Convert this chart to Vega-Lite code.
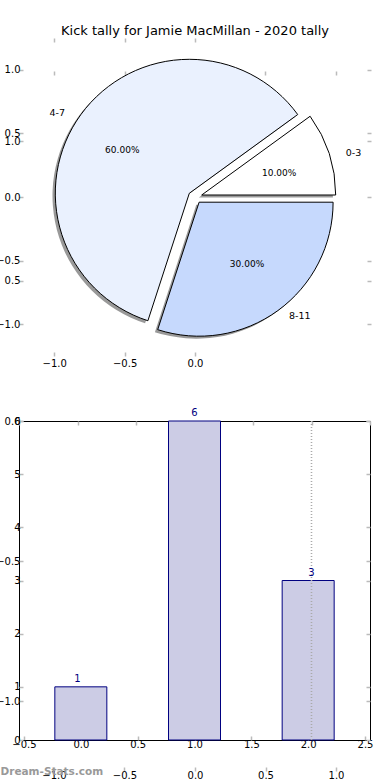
{
  "$schema": "https://vega.github.io/schema/vega-lite/v6.json",
  "autosize": {"type": "none"},
  "padding": {"left": 19, "top": 38, "right": 371, "bottom": 742},
  "background": "white",
  "spacing": 65,
  "bounds": "flush",
  "config": {
    "font": "DejaVu Sans",
    "view": {"stroke": null},
    "axis": {
      "domain": false, "grid": false, "title": null,
      "tickColor": "#bbbbbb", "tickSize": -4, "tickWidth": 1.5,
      "labelFontSize": 10, "labelColor": "black", "labelPadding": 3,
      "labelFont": "DejaVu Sans", "labelFlush": false, "labelOverlap": false, "labelBound": false
    }
  },
  "datasets": {
    "tally": [
      {"range": "0-3", "count": 1, "idx": 0},
      {"range": "4-7", "count": 6, "idx": 1},
      {"range": "8-11", "count": 3, "idx": 2}
    ]
  },
  "vconcat": [
    {
      "width": 352, "height": 318,
      "title": {"text": "Kick tally for Jamie MacMillan - 2020 tally", "fontSize": 13, "fontWeight": "normal", "color": "black", "offset": -1},
      "data": {"name": "tally"},
      "transform": [
        {"joinaggregate": [{"op": "sum", "field": "count", "as": "total"}]},
        {"calculate": "datum.count / datum.total", "as": "frac"}
      ],
      "resolve": {"scale": {"x": "independent", "y": "independent"}, "axis": {"x": "independent", "y": "independent"}},
      "layer": [
        {"mark": {"type": "point", "opacity": 0},
         "encoding": {
           "x": {"datum": 0, "type": "quantitative", "scale": {"domain": [-1.25, 1.25], "nice": false, "zero": false}, "axis": {"orient": "bottom", "values": [-1, -0.5, 0], "format": ".1f", "labelPadding": 6, "labelFlush": false}},
           "y": {"datum": 0, "type": "quantitative", "scale": {"domain": [-1.25, 1.25], "nice": false, "zero": false}, "axis": {"orient": "left", "values": [-1, -0.5, 0, 0.5, 1], "format": ".1f", "labelFlush": false}}
         }},
        {"mark": {"type": "point", "opacity": 0},
         "encoding": {
           "x": {"datum": 0, "type": "quantitative", "scale": {"domain": [-1.25, 1.25], "nice": false, "zero": false}, "axis": {"orient": "top", "values": [-1, -0.5, 0], "labels": false}},
           "y": {"datum": 0, "type": "quantitative", "scale": {"domain": [-1.25, 1.25], "nice": false, "zero": false}, "axis": {"orient": "right", "values": [-1, -0.5, 0, 0.5, 1], "labels": false}}
         }},
        {"mark": {"type": "point", "opacity": 0},
         "encoding": {
           "x": {"datum": 0, "type": "quantitative", "scale": {"domain": [-1.25, 1.25], "nice": false, "zero": false}, "axis": {"orient": "top", "offset": -33, "values": [-1, -0.5, 0, 0.5, 1], "labels": false}},
           "y": {"datum": 1, "type": "quantitative", "scale": {"domain": [0.232, 1.368], "nice": false, "zero": false}, "axis": {"orient": "left", "values": [0.5, 1], "format": ".1f", "labelFlush": false}}
         }},
        {"mark": {"type": "point", "opacity": 0},
         "encoding": {
           "y": {"datum": 1, "type": "quantitative", "scale": {"domain": [0.232, 1.368], "nice": false, "zero": false}, "axis": {"orient": "right", "values": [0.5, 1], "labels": false}}
         }},
        {"mark": {"type": "arc", "radius": 134, "fill": "#333333", "xOffset": 3.9, "yOffset": 0.5},
         "encoding": {
           "theta": {"field": "count", "type": "quantitative", "stack": true, "scale": {"range": [1.5708, 7.854]}},
           "order": {"field": "range", "sort": "descending"},
           "opacity": {"condition": {"test": "datum.range === '0-3'", "value": 0.5}, "value": 0}
         }},
        {"mark": {"type": "arc", "radius": 134, "fill": "#333333", "xOffset": -8.5, "yOffset": -1.2},
         "encoding": {
           "theta": {"field": "count", "type": "quantitative", "stack": true, "scale": {"range": [1.5708, 7.854]}},
           "order": {"field": "range", "sort": "descending"},
           "opacity": {"condition": {"test": "datum.range === '4-7'", "value": 0.5}, "value": 0}
         }},
        {"mark": {"type": "arc", "radius": 134, "fill": "#333333", "xOffset": 1.3, "yOffset": 7.7},
         "encoding": {
           "theta": {"field": "count", "type": "quantitative", "stack": true, "scale": {"range": [1.5708, 7.854]}},
           "order": {"field": "range", "sort": "descending"},
           "opacity": {"condition": {"test": "datum.range === '8-11'", "value": 0.5}, "value": 0}
         }},
        {"mark": {"type": "arc", "radius": 134, "stroke": "black", "strokeWidth": 1, "xOffset": 6.7, "yOffset": -2.0},
         "encoding": {
           "theta": {"field": "count", "type": "quantitative", "stack": true, "scale": {"range": [1.5708, 7.854]}},
           "order": {"field": "range", "sort": "descending"},
           "color": {"field": "range", "type": "nominal", "scale": {"domain": ["0-3", "4-7", "8-11"], "range": ["#ffffff", "#eaf1fe", "#c6d9fd"]}, "legend": null},
           "opacity": {"condition": {"test": "datum.range === '0-3'", "value": 1}, "value": 0}
         }},
        {"mark": {"type": "arc", "radius": 134, "stroke": "black", "strokeWidth": 1, "xOffset": -5.7, "yOffset": -3.7},
         "encoding": {
           "theta": {"field": "count", "type": "quantitative", "stack": true, "scale": {"range": [1.5708, 7.854]}},
           "order": {"field": "range", "sort": "descending"},
           "color": {"field": "range", "type": "nominal", "scale": {"domain": ["0-3", "4-7", "8-11"], "range": ["#ffffff", "#eaf1fe", "#c6d9fd"]}, "legend": null},
           "opacity": {"condition": {"test": "datum.range === '4-7'", "value": 1}, "value": 0}
         }},
        {"mark": {"type": "arc", "radius": 134, "stroke": "black", "strokeWidth": 1, "xOffset": 4.1, "yOffset": 5.2},
         "encoding": {
           "theta": {"field": "count", "type": "quantitative", "stack": true, "scale": {"range": [1.5708, 7.854]}},
           "order": {"field": "range", "sort": "descending"},
           "color": {"field": "range", "type": "nominal", "scale": {"domain": ["0-3", "4-7", "8-11"], "range": ["#ffffff", "#eaf1fe", "#c6d9fd"]}, "legend": null},
           "opacity": {"condition": {"test": "datum.range === '8-11'", "value": 1}, "value": 0}
         }},
        {"mark": {"type": "text", "radius": 147, "align": "left", "baseline": "middle", "fontSize": 9.5, "color": "black", "xOffset": 11, "yOffset": 1.4},
         "encoding": {
           "theta": {"field": "count", "type": "quantitative", "stack": true, "scale": {"range": [1.5708, 7.854]}},
           "order": {"field": "range", "sort": "descending"},
           "text": {"field": "range", "type": "nominal"},
           "opacity": {"condition": {"test": "datum.range === '0-3'", "value": 1}, "value": 0}
         }},
        {"mark": {"type": "text", "radius": 147, "align": "right", "baseline": "middle", "fontSize": 9.5, "color": "black", "xOffset": -11, "yOffset": 2.4},
         "encoding": {
           "theta": {"field": "count", "type": "quantitative", "stack": true, "scale": {"range": [1.5708, 7.854]}},
           "order": {"field": "range", "sort": "descending"},
           "text": {"field": "range", "type": "nominal"},
           "opacity": {"condition": {"test": "datum.range === '4-7'", "value": 1}, "value": 0}
         }},
        {"mark": {"type": "text", "radius": 147, "align": "left", "baseline": "middle", "fontSize": 9.5, "color": "black", "xOffset": 7.6, "yOffset": 0},
         "encoding": {
           "theta": {"field": "count", "type": "quantitative", "stack": true, "scale": {"range": [1.5708, 7.854]}},
           "order": {"field": "range", "sort": "descending"},
           "text": {"field": "range", "type": "nominal"},
           "opacity": {"condition": {"test": "datum.range === '8-11'", "value": 1}, "value": 0}
         }},
        {"mark": {"type": "text", "radius": 80, "align": "center", "baseline": "middle", "fontSize": 9, "color": "black", "xOffset": 8, "yOffset": 0.7},
         "encoding": {
           "theta": {"field": "count", "type": "quantitative", "stack": true, "scale": {"range": [1.5708, 7.854]}},
           "order": {"field": "range", "sort": "descending"},
           "text": {"field": "frac", "type": "quantitative", "format": ".2%"},
           "opacity": {"condition": {"test": "datum.range === '0-3'", "value": 1}, "value": 0}
         }},
        {"mark": {"type": "text", "radius": 80, "align": "center", "baseline": "middle", "fontSize": 9, "color": "black", "xOffset": -8, "yOffset": 0},
         "encoding": {
           "theta": {"field": "count", "type": "quantitative", "stack": true, "scale": {"range": [1.5708, 7.854]}},
           "order": {"field": "range", "sort": "descending"},
           "text": {"field": "frac", "type": "quantitative", "format": ".2%"},
           "opacity": {"condition": {"test": "datum.range === '4-7'", "value": 1}, "value": 0}
         }},
        {"mark": {"type": "text", "radius": 80, "align": "center", "baseline": "middle", "fontSize": 9, "color": "black", "xOffset": 5, "yOffset": 2.3},
         "encoding": {
           "theta": {"field": "count", "type": "quantitative", "stack": true, "scale": {"range": [1.5708, 7.854]}},
           "order": {"field": "range", "sort": "descending"},
           "text": {"field": "frac", "type": "quantitative", "format": ".2%"},
           "opacity": {"condition": {"test": "datum.range === '8-11'", "value": 1}, "value": 0}
         }}
      ]
    },
    {
      "width": 351, "height": 319,
      "view": {"stroke": "black", "strokeWidth": 1},
      "data": {"name": "tally"},
      "resolve": {"scale": {"x": "independent", "y": "independent"}, "axis": {"x": "independent", "y": "independent"}},
      "layer": [
        {"mark": {"type": "bar", "width": 52, "fill": "#ccccE5", "stroke": "#000080", "strokeWidth": 1},
         "encoding": {
           "x": {"field": "idx", "type": "quantitative", "scale": {"domain": [-0.5, 2.5], "nice": false, "zero": false}, "axis": {"orient": "bottom", "values": [-0.5, 0, 0.5, 1, 1.5, 2, 2.5], "format": ".1f", "labelFlush": false}},
           "y": {"field": "count", "type": "quantitative", "scale": {"domain": [0, 6], "nice": false}, "axis": {"orient": "left", "values": [0, 1, 2, 3, 4, 5, 6], "format": "d", "labelFlush": false}}
         }},
        {"mark": {"type": "rule", "color": "#aaaaaa", "strokeDash": [1, 2], "strokeWidth": 1.2},
         "encoding": {
           "x": {"datum": 2, "type": "quantitative", "scale": {"domain": [-0.5, 2.5], "nice": false, "zero": false}, "axis": null}
         }},
        {"mark": {"type": "text", "color": "#000080", "fontSize": 10, "baseline": "alphabetic", "dy": -5},
         "encoding": {
           "x": {"field": "idx", "type": "quantitative", "scale": {"domain": [-0.5, 2.5], "nice": false, "zero": false}, "axis": null},
           "y": {"field": "count", "type": "quantitative", "scale": {"domain": [0, 6], "nice": false}, "axis": null},
           "text": {"field": "count", "type": "quantitative"}
         }},
        {"mark": {"type": "point", "opacity": 0},
         "encoding": {
           "x": {"datum": 0, "type": "quantitative", "scale": {"domain": [-0.5, 2.5], "nice": false, "zero": false}, "axis": {"orient": "top", "values": [-0.5, 0, 0.5, 1, 1.5, 2, 2.5], "labels": false}},
           "y": {"datum": 0, "type": "quantitative", "scale": {"domain": [0, 6], "nice": false}, "axis": {"orient": "right", "values": [0, 1, 2, 3, 4, 5, 6], "labels": false}}
         }},
        {"mark": {"type": "point", "opacity": 0},
         "encoding": {
           "x": {"datum": 0, "type": "quantitative", "scale": {"domain": [-1.248, 1.241], "nice": false, "zero": false}, "axis": {"orient": "bottom", "offset": 31, "values": [-1, -0.5, 0, 0.5, 1], "format": ".1f", "labelFlush": false, "title": "Dream-Stats.com", "titleColor": "#999999", "titleFontSize": 10.5, "titleFontWeight": "bold", "titleAlign": "left", "titleAnchor": "start", "titleX": -19, "titleY": 0, "titleBaseline": "middle"}},
           "y": {"datum": 0, "type": "quantitative", "scale": {"domain": [-1.139, 0], "nice": false, "zero": false}, "axis": {"orient": "left", "values": [-1, -0.5, 0], "format": ".1f", "labelFlush": false}}
         }},
        {"mark": {"type": "point", "opacity": 0},
         "encoding": {
           "y": {"datum": 0, "type": "quantitative", "scale": {"domain": [-1.139, 0], "nice": false, "zero": false}, "axis": {"orient": "right", "values": [-1, -0.5, 0], "labels": false}}
         }}
      ]
    }
  ]
}
